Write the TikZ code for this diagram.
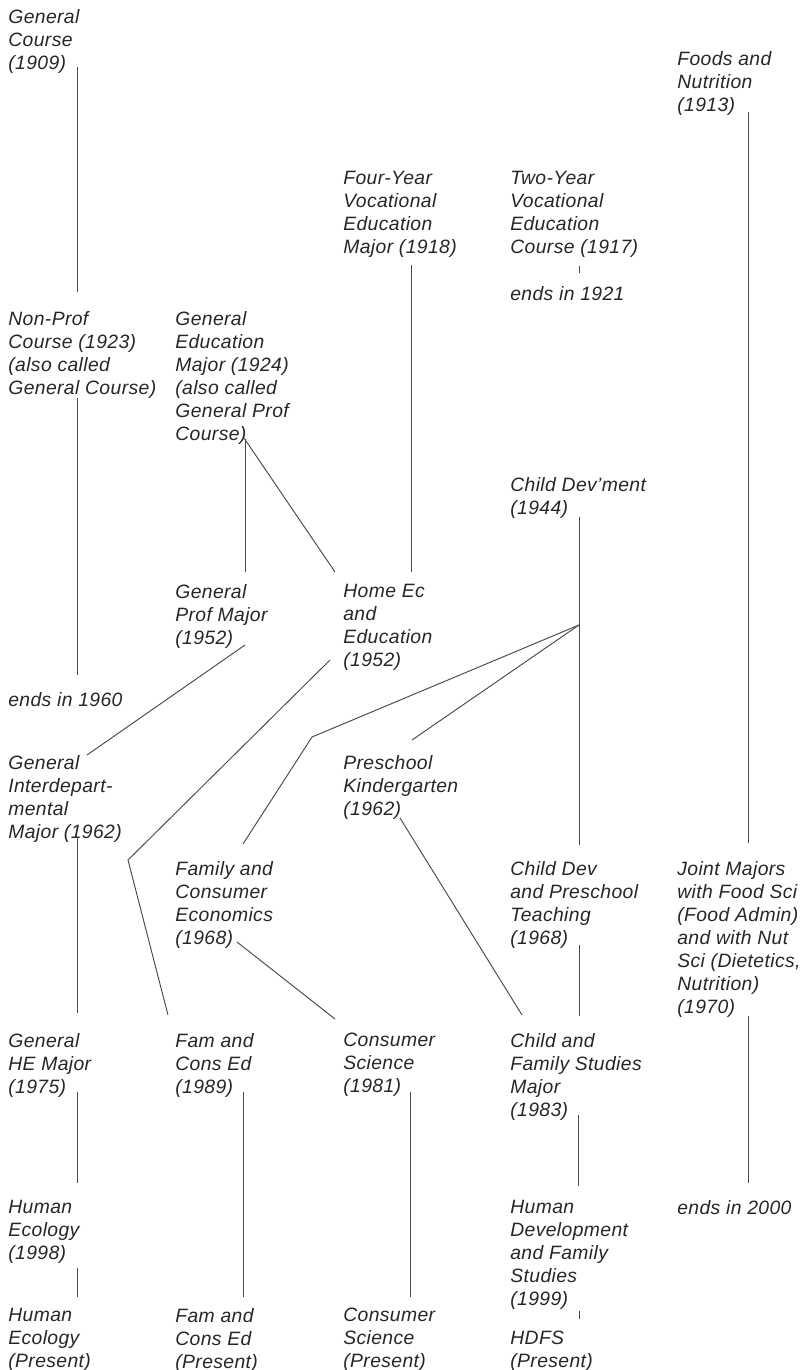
\documentclass[tikz,border=0pt]{standalone}
\usepackage{fontspec}
\setmainfont{Liberation Sans}[LetterSpace=2]
\usepackage{tikz}
\usetikzlibrary{calc}

\begin{document}
\begin{tikzpicture}[x=0.02cm, y=-0.02cm, link/.style = {draw=black!70, line width=0.55pt}]
	\tikzset{item/.style={anchor=north west,inner sep=0pt,align=left,text=black!85,font=\fontsize{11}{13.1}\selectfont\itshape}}
	\useasboundingbox (0,0) rectangle (811,1370);

	% row by row, top to bottom
	\node[item] (gencourse) at (8,9) {General\\Course\\(1909)};
	\node[item] (foods) at (677,51) {Foods and\\Nutrition\\(1913)};
	\node[item] (fouryear) at (343,171) {Four-Year\\Vocational\\Education\\Major (1918)};
	\node[item] (twoyear) at (510,171) {Two-Year\\Vocational\\Education\\Course (1917)};
	\node[item] (end1921) at (510,286) {ends in 1921};
	\node[item] (nonprof) at (8,311) {Non-Prof\\Course (1923)\\(also called\\General Course)};
	\node[item] (genedu) at (175,311) {General\\Education\\Major (1924)\\(also called\\General Prof\\Course)};
	\node[item] (childdev) at (510,477) {Child Dev'ment\\(1944)};
	\node[item] (genprof) at (175,584) {General\\Prof Major\\(1952)};
	\node[item] (homeec) at (343,584) {Home Ec\\and\\Education\\(1952)};
	\node[item] (end1960) at (8,692) {ends in 1960};
	\node[item] (geninter) at (8,755) {General\\Interdepart-\\mental\\Major (1962)};
	\node[item] (preschool) at (343,755) {Preschool\\Kindergarten\\(1962)};
	\node[item] (fce) at (175,861) {Family and\\Consumer\\Economics\\(1968)};
	\node[item] (cdpt) at (510,861) {Child Dev\\and Preschool\\Teaching\\(1968)};
	\node[item] (joint) at (677,861) {Joint Majors\\with Food Sci\\(Food Admin)\\and with Nut\\Sci (Dietetics,\\Nutrition)\\(1970)};
	\node[item] (genhe) at (8,1033) {General\\HE Major\\(1975)};
	\node[item] (famed) at (175,1033) {Fam and\\Cons Ed\\(1989)};
	\node[item] (consci) at (343,1033) {Consumer\\Science\\(1981)};
	\node[item] (cfs) at (510,1033) {Child and\\Family Studies\\Major\\(1983)};
	\node[item] (humeco) at (8,1200) {Human\\Ecology\\(1998)};
	\node[item] (hdfs) at (510,1200) {Human\\Development\\and Family\\Studies\\(1999)};
	\node[item] (end2000) at (677,1200) {ends in 2000};
	\node[item] (humecop) at (8,1308) {Human\\Ecology\\(Present)};
	\node[item] (famedp) at (175,1308) {Fam and\\Cons Ed\\(Present)};
	\node[item] (conscip) at (343,1308) {Consumer\\Science\\(Present)};
	\node[item] (hdfsp) at (510,1331) {HDFS\\(Present)};

	\coordinate (bendhe) at (128,860);
	\coordinate (bendcd) at (312,737);
	\coordinate (forkcd) at (579,625);

	\draw [link] ([shift={(69,58)}]gencourse.north west) -- ([shift={(69,-19)}]nonprof.north west);
	\draw [link] ([shift={(71,61)}]foods.north west) -- ([shift={(71,-18)}]joint.north west);
	\draw [link] ([shift={(68,94)}]fouryear.north west) -- ([shift={(68,-12)}]homeec.north west);
	\draw [link] ([shift={(69,95)}]twoyear.north west) -- ([shift={(69,-13)}]end1921.north west);
	\draw [link] ([shift={(69,87)}]nonprof.north west) -- ([shift={(69,-17)}]end1960.north west);
	\draw [link] ([shift={(70,128)}]genedu.north west) -- ([shift={(70,-12)}]genprof.north west);
	\draw [link] ([shift={(69,127)}]genedu.north west) -- ([shift={(-8,-12)}]homeec.north west);
	\draw [link] ([shift={(70,61)}]genprof.north west) -- ([shift={(79,0)}]geninter.north west);
	\draw [link] ([shift={(-13,76)}]homeec.north west) -- (bendhe) -- ([shift={(-7,-18)}]famed.north west);
	\draw [link] ([shift={(69,40)}]childdev.north west) -- ([shift={(69,-16)}]cdpt.north west);
	\draw [link] (forkcd) -- (bendcd) -- ([shift={(68,-17)}]fce.north west);
	\draw [link] (forkcd) -- ([shift={(69,-15)}]preschool.north west);
	\draw [link] ([shift={(69,82)}]geninter.north west) -- ([shift={(69,-20)}]genhe.north west);
	\draw [link] ([shift={(57,63)}]preschool.north west) -- ([shift={(12,-18)}]cfs.north west);
	\draw [link] ([shift={(62,81)}]fce.north west) -- ([shift={(-8,-14)}]consci.north west);
	\draw [link] ([shift={(69,84)}]cdpt.north west) -- ([shift={(69,-17)}]cfs.north west);
	\draw [link] ([shift={(71,155)}]joint.north west) -- ([shift={(71,-17)}]end2000.north west);
	\draw [link] ([shift={(69,59)}]genhe.north west) -- ([shift={(69,-17)}]humeco.north west);
	\draw [link] ([shift={(68,59)}]famed.north west) -- ([shift={(68,-11)}]famedp.north west);
	\draw [link] ([shift={(67,59)}]consci.north west) -- ([shift={(67,-11)}]conscip.north west);
	\draw [link] ([shift={(68,82)}]cfs.north west) -- ([shift={(68,-14)}]hdfs.north west);
	\draw [link] ([shift={(69,68)}]humeco.north west) -- ([shift={(69,-11)}]humecop.north west);
	\draw [link] ([shift={(69,111)}]hdfs.north west) -- ([shift={(69,-12)}]hdfsp.north west);

\end{tikzpicture}
\end{document}
